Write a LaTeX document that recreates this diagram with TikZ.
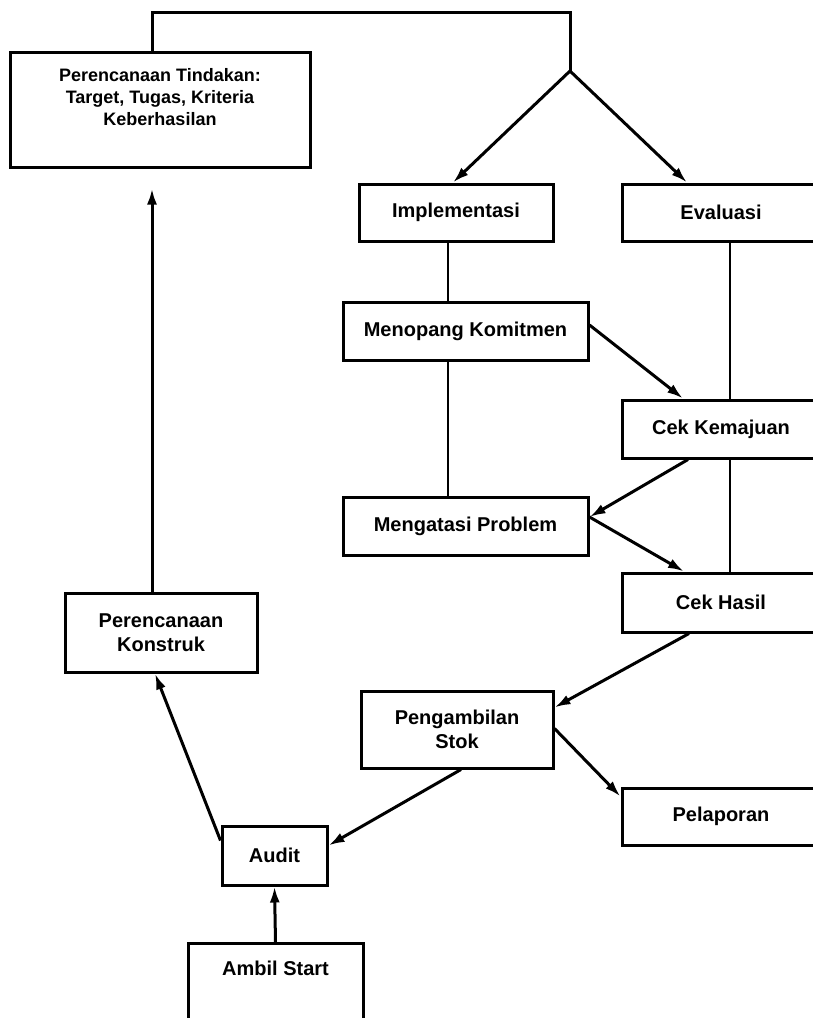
\documentclass[tikz,border=0pt]{standalone}
\usepackage{fontspec}
\setmainfont{Liberation Sans}
\usetikzlibrary{arrows.meta}
\begin{document}
\begin{tikzpicture}[x=1pt,y=-1pt,
  box/.style={draw, line width=3pt, inner sep=0pt, align=center,
    font=\bfseries\fontsize{20}{24}\selectfont},
  arr/.style={line width=3pt, -{Latex[length=16pt,width=10pt]}},
  thin/.style={line width=1.8pt}]
\useasboundingbox (0,0) rectangle (813,1018);
\fill[white] (0,0) rectangle (813,1018);
\clip (0,0) rectangle (813,1018);
% nodes
\node[box, minimum width=300, minimum height=115,
  font=\bfseries\fontsize{18}{22}\selectfont] (A) at (160,109.5)
  {Perencanaan Tindakan:\\Target, Tugas, Kriteria\\Keberhasilan\\[4pt]};
\node[box, minimum width=194, minimum height=57] (impl) at (456,212.5) {Implementasi};
\node[box, minimum width=198, minimum height=57] (eval) at (721,212.5) {Evaluasi};
\node[box, minimum width=245, minimum height=58] (menop) at (465.5,331) {Menopang Komitmen};
\node[box, minimum width=198, minimum height=58] (ck) at (721,429) {Cek Kemajuan};
\node[box, minimum width=245, minimum height=58] (meng) at (465.5,526) {Mengatasi Problem};
\node[box, minimum width=198, minimum height=59] (ch) at (721,602.5) {Cek Hasil};
\node[box, minimum width=192, minimum height=79] (pk) at (161,632.5) {Perencanaan\\Konstruk};
\node[box, minimum width=192, minimum height=77] (ps) at (457,729.5) {Pengambilan\\Stok};
\node[box, minimum width=198, minimum height=57] (pel) at (721,816.5) {Pelaporan};
\node[box, minimum width=105, minimum height=59] (audit) at (274.5,855.5) {Audit};
\node[box, minimum width=175, anchor=north, text height=32pt, text depth=60pt] (start) at (275.5,942) {Ambil Start};
% coordinates
\coordinate (top) at (570,12);
\coordinate (split) at (570,71);
\coordinate (pkup) at ([xshift=-9pt]pk.north);
% connectors
\draw[line width=3pt] ([xshift=-8pt]A.north) |- (top) -- (split);
\draw[arr] (split) -- ([xshift=-3pt]impl.north);
\draw[arr] (split) -- ([xshift=-34pt]eval.north);
\draw[thin] ([xshift=-8pt]impl.south) -- ([xshift=-17.5pt]menop.north);
\draw[thin] ([xshift=-17.5pt]menop.south) -- ([xshift=-17.5pt]meng.north);
\draw[thin] ([xshift=9pt]eval.south) -- ([xshift=9pt]ck.north);
\draw[thin] ([xshift=9pt]ck.south) -- ([xshift=9pt]ch.north);
\draw[arr] ([yshift=6pt]menop.east) -- ([xshift=-38pt]ck.north);
\draw[arr] ([xshift=-33pt]ck.south) -- ([yshift=9pt]meng.east);
\draw[arr] ([yshift=9pt]meng.east) -- ([xshift=-37pt]ch.north);
\draw[arr] ([xshift=-32pt]ch.south) -- ([yshift=22pt]ps.east);
\draw[arr] ([yshift=1pt]ps.east) -- ([yshift=-10pt]pel.north west);
\draw[arr] ([xshift=4pt]ps.south) -- ([yshift=10pt]audit.east);
\draw[arr] ([yshift=15pt]audit.west) -- ([xshift=-6pt]pk.south);
\draw[arr] (start.north) -- (audit.south);
\draw[arr, shorten >=20pt] (pkup) -- (pkup |- A.south);
\end{tikzpicture}
\end{document}
